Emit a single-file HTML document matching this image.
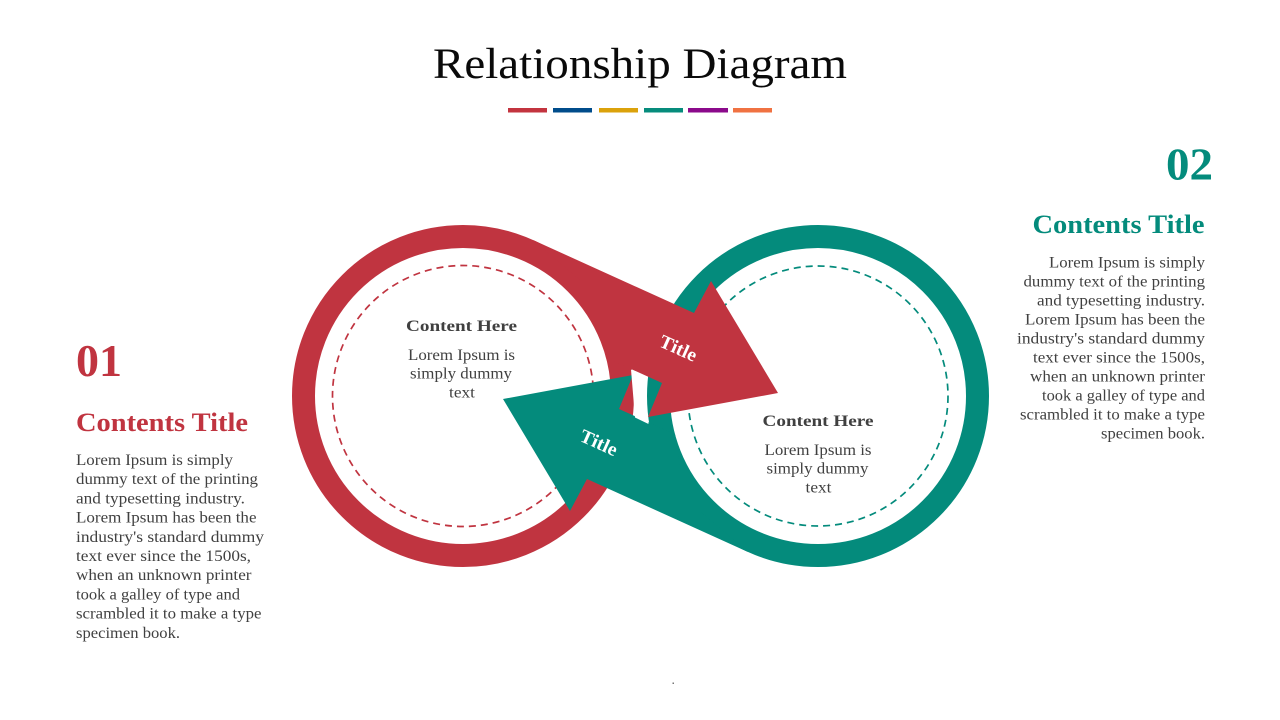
<!DOCTYPE html>
<html>
<head>
<meta charset="utf-8">
<style>
  html, body { margin: 0; padding: 0; background: #ffffff; }
  body { width: 1280px; height: 720px; overflow: hidden; }
  svg { display: block; }
  .serif { font-family: "Liberation Serif", "DejaVu Serif", serif; }
</style>
</head>
<body>
<svg width="1280" height="720" viewBox="0 0 1280 720" xmlns="http://www.w3.org/2000/svg" class="serif">
  <rect x="0" y="0" width="1280" height="720" fill="#ffffff"/>

  <!-- Title -->
  <text x="433" y="78" font-size="43" fill="#0a0a0a" textLength="414" lengthAdjust="spacingAndGlyphs">Relationship Diagram</text>

  <!-- Color bars -->
  <rect x="508" y="108" width="39" height="4.5" fill="#C3343F"/>
  <rect x="553" y="108" width="39" height="4.5" fill="#004C8B"/>
  <rect x="599" y="108" width="39" height="4.5" fill="#DBA20B"/>
  <rect x="644" y="108" width="39" height="4.5" fill="#068C7C"/>
  <rect x="688" y="108" width="40" height="4.5" fill="#8B0A8B"/>
  <rect x="733" y="108" width="39" height="4.5" fill="#F07242"/>

  <!-- Rings -->
  <circle cx="463" cy="396" r="159.5" fill="#ffffff" stroke="#C03440" stroke-width="23"/>
  <circle cx="818" cy="396" r="159.5" fill="#ffffff" stroke="#048B7C" stroke-width="23"/>

  <!-- Dashed inner circles -->
  <circle cx="463" cy="396" r="130.5" fill="none" stroke="#C03440" stroke-width="1.7" stroke-dasharray="7 5"/>
  <circle cx="818" cy="396" r="130" fill="none" stroke="#048B7C" stroke-width="1.7" stroke-dasharray="7 5"/>

  <!-- Left circle text -->
  <text x="406" y="331" font-size="16" font-weight="bold" fill="#404040" textLength="111" lengthAdjust="spacingAndGlyphs">Content Here</text>
  <text x="408" y="360" font-size="16" fill="#404040" textLength="107" lengthAdjust="spacingAndGlyphs">Lorem Ipsum is</text>
  <text x="410" y="378.5" font-size="16" fill="#404040" textLength="102" lengthAdjust="spacingAndGlyphs">simply dummy</text>
  <text x="449" y="397.5" font-size="16" fill="#404040" textLength="26" lengthAdjust="spacingAndGlyphs">text</text>

  <!-- Right circle text -->
  <text x="762.5" y="426" font-size="16" font-weight="bold" fill="#404040" textLength="111" lengthAdjust="spacingAndGlyphs">Content Here</text>
  <text x="764.5" y="455" font-size="16" fill="#404040" textLength="107" lengthAdjust="spacingAndGlyphs">Lorem Ipsum is</text>
  <text x="766.5" y="473.5" font-size="16" fill="#404040" textLength="102" lengthAdjust="spacingAndGlyphs">simply dummy</text>
  <text x="805.5" y="492.5" font-size="16" fill="#404040" textLength="26" lengthAdjust="spacingAndGlyphs">text</text>

  <!-- Red arrow -->
  <polygon fill="#C03440" points="533,240 694,313 711,281 778,393 648,417 662,383 606,357.7 600,320 580,280"/>
  <!-- Teal arrow (point-reflected) -->
  <polygon fill="#048B7C" points="748,552 587,479 570,511 503,399 633,375 619,409 675,434.3 681,472 701,512"/>

  <!-- White sliver -->
  <polygon fill="#ffffff" points="631,369.5 642.5,374.5 648.5,424 635,417.5"/>

  <!-- Arrow labels -->
  <text x="659" y="354.5" font-size="19" font-weight="bold" fill="#ffffff" textLength="39" lengthAdjust="spacingAndGlyphs" transform="rotate(24.2 678.5 348)">Title</text>
  <text x="579.5" y="449" font-size="19" font-weight="bold" fill="#ffffff" textLength="39" lengthAdjust="spacingAndGlyphs" transform="rotate(24.2 599 442.5)">Title</text>

  <!-- Left side block -->
  <text x="76" y="376" font-size="46" font-weight="bold" fill="#C03440" textLength="46" lengthAdjust="spacingAndGlyphs">01</text>
  <text x="76" y="431" font-size="26" font-weight="bold" fill="#C03440" textLength="172" lengthAdjust="spacingAndGlyphs">Contents Title</text>
  <g font-size="16" fill="#404040">
    <text x="76" y="465" textLength="157" lengthAdjust="spacingAndGlyphs">Lorem Ipsum is simply</text>
    <text x="76" y="484.2" textLength="182" lengthAdjust="spacingAndGlyphs">dummy text of the printing</text>
    <text x="76" y="503.4" textLength="169" lengthAdjust="spacingAndGlyphs">and typesetting industry.</text>
    <text x="76" y="522.6" textLength="180.5" lengthAdjust="spacingAndGlyphs">Lorem Ipsum has been the</text>
    <text x="76" y="541.8" textLength="188" lengthAdjust="spacingAndGlyphs">industry's standard dummy</text>
    <text x="76" y="561" textLength="175" lengthAdjust="spacingAndGlyphs">text ever since the 1500s,</text>
    <text x="76" y="580.2" textLength="175.5" lengthAdjust="spacingAndGlyphs">when an unknown printer</text>
    <text x="76" y="599.4" textLength="164" lengthAdjust="spacingAndGlyphs">took a galley of type and</text>
    <text x="76" y="618.6" textLength="185.5" lengthAdjust="spacingAndGlyphs">scrambled it to make a type</text>
    <text x="76" y="637.8" textLength="104" lengthAdjust="spacingAndGlyphs">specimen book.</text>
  </g>

  <!-- Right side block -->
  <text x="1166" y="179.5" font-size="46" font-weight="bold" fill="#048B7C" textLength="47" lengthAdjust="spacingAndGlyphs">02</text>
  <text x="1032.5" y="233" font-size="26" font-weight="bold" fill="#048B7C" textLength="172" lengthAdjust="spacingAndGlyphs">Contents Title</text>
  <g font-size="16" fill="#404040">
    <text x="1049" y="267.3" textLength="156" lengthAdjust="spacingAndGlyphs">Lorem Ipsum is simply</text>
    <text x="1023.5" y="286.3" textLength="181.5" lengthAdjust="spacingAndGlyphs">dummy text of the printing</text>
    <text x="1037" y="305.3" textLength="168" lengthAdjust="spacingAndGlyphs">and typesetting industry.</text>
    <text x="1025" y="324.3" textLength="180" lengthAdjust="spacingAndGlyphs">Lorem Ipsum has been the</text>
    <text x="1017" y="343.3" textLength="188" lengthAdjust="spacingAndGlyphs">industry's standard dummy</text>
    <text x="1033" y="362.3" textLength="172" lengthAdjust="spacingAndGlyphs">text ever since the 1500s,</text>
    <text x="1030" y="381.3" textLength="175" lengthAdjust="spacingAndGlyphs">when an unknown printer</text>
    <text x="1042" y="400.3" textLength="163" lengthAdjust="spacingAndGlyphs">took a galley of type and</text>
    <text x="1020" y="419.3" textLength="185" lengthAdjust="spacingAndGlyphs">scrambled it to make a type</text>
    <text x="1101" y="438.3" textLength="104" lengthAdjust="spacingAndGlyphs">specimen book.</text>
  </g>

  <!-- tiny dot artifact -->
  <rect x="672.5" y="682.5" width="1.5" height="1.5" fill="#777777"/>
</svg>
</body>
</html>
